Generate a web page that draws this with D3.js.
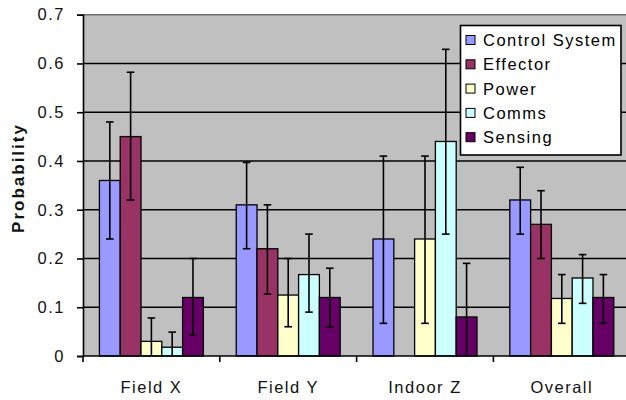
<!DOCTYPE html>
<html>
<head>
<meta charset="utf-8">
<script src="https://cdn.jsdelivr.net/npm/d3@7"></script>
<style>
  body { margin: 0; background: #fff; }
  svg { display: block; font-family: "Liberation Sans", Arial, sans-serif; }
</style>
</head>
<body>
<svg id="chart" width="626" height="400"></svg>
<script>
const categories = ['Field X', 'Field Y', 'Indoor Z', 'Overall'];
const seriesNames = ['Control System', 'Effector', 'Power', 'Comms', 'Sensing'];
const seriesColors = ['#9999ff', '#993366', '#ffffcc', '#ccffff', '#660066'];

// mean probability per series, one value per category (null = no bar)
const controlSystem = [0.36, 0.31, 0.24, 0.32];
const effector = [0.45, 0.22, null, 0.27];
const power = [0.03, 0.125, 0.24, 0.118];
const comms = [0.018, 0.167, 0.44, 0.16];
const sensing = [0.12, 0.12, 0.08, 0.12];

// error bar ends
const controlSystemLow = [0.24, 0.22, 0.067, 0.25];
const controlSystemHigh = [0.48, 0.397, 0.41, 0.387];
const effectorLow = [0.32, 0.127, null, 0.2];
const effectorHigh = [0.582, 0.31, null, 0.339];
const powerLow = [0, 0.06, 0.067, 0.067];
const powerHigh = [0.078, 0.2, 0.41, 0.167];
const commsLow = [0, 0.09, 0.25, 0.108];
const commsHigh = [0.049, 0.25, 0.629, 0.208];
const sensingLow = [0.043, 0.06, 0, 0.067];
const sensingHigh = [0.2, 0.18, 0.19, 0.167];

const yTicks = [0, 0.1, 0.2, 0.3, 0.4, 0.5, 0.6, 0.7];

const values = [controlSystem, effector, power, comms, sensing];
const lows = [controlSystemLow, effectorLow, powerLow, commsLow, sensingLow];
const highs = [controlSystemHigh, effectorHigh, powerHigh, commsHigh, sensingHigh];

const bars = [];
seriesNames.forEach((s, si) => {
    categories.forEach((c, ci) => {
        if (values[si][ci] == null) return;
        bars.push({ series: s, color: seriesColors[si], cat: c, v: values[si][ci], lo: lows[si][ci], hi: highs[si][ci] });
    });
});

const svg = d3.select('#chart');
const plotLeft = 83, plotRight = 630.2, plotTop = 14.7, plotBottom = 356;

const x0 = d3.scaleBand().domain(categories).range([plotLeft, plotRight]).padding(0);
const x1 = d3.scaleBand().domain(seriesNames).range([0, x0.bandwidth()]).paddingInner(0).paddingOuter(0.79);
const y = d3.scaleLinear().domain([0, 0.7]).range([plotBottom, plotTop]);

// plot area
svg.append('rect')
    .attr('x', plotLeft).attr('y', plotTop)
    .attr('width', 626 - plotLeft).attr('height', plotBottom - plotTop)
    .attr('fill', '#c0c0c0');

// gridlines
svg.append('g')
    .selectAll('line')
    .data(yTicks.filter(t => t > 0))
    .join('line')
    .attr('x1', plotLeft).attr('x2', 626)
    .attr('y1', d => y(d)).attr('y2', d => y(d))
    .attr('stroke', d => d === 0.7 ? '#707070' : '#000')
    .attr('stroke-width', 1.5);

// bars
svg.append('g')
    .selectAll('rect')
    .data(bars)
    .join('rect')
    .attr('x', d => x0(d.cat) + x1(d.series))
    .attr('y', d => y(d.v))
    .attr('width', x1.bandwidth())
    .attr('height', d => y(0) - y(d.v))
    .attr('fill', d => d.color)
    .attr('stroke', '#000')
    .attr('stroke-width', 1.3);

// error bars
const capHalf = 3.8;
const eb = svg.append('g').attr('stroke', '#000').attr('stroke-width', 1.6);
bars.forEach(d => {
    const cx = x0(d.cat) + x1(d.series) + x1.bandwidth() / 2;
    eb.append('line').attr('x1', cx).attr('x2', cx).attr('y1', y(d.lo)).attr('y2', y(d.hi));
    eb.append('line').attr('x1', cx - capHalf).attr('x2', cx + capHalf).attr('y1', y(d.hi)).attr('y2', y(d.hi));
    if (d.lo > 0) {
        eb.append('line').attr('x1', cx - capHalf).attr('x2', cx + capHalf).attr('y1', y(d.lo)).attr('y2', y(d.lo));
    }
});

// y axis
const yAxis = svg.append('g')
    .attr('transform', `translate(${plotLeft},0)`)
    .call(d3.axisLeft(y).tickValues(yTicks).tickSize(6).tickPadding(12).tickFormat(d => d === 0 ? '0' : d3.format('.1f')(d)));
yAxis.select('.domain').attr('stroke', '#000').attr('stroke-width', 1.6);
yAxis.selectAll('.tick line').attr('stroke', '#000').attr('stroke-width', 1.6);
yAxis.selectAll('text')
    .attr('font-size', 16.5).attr('letter-spacing', 1.5)
    .attr('fill', '#111')
    .attr('font-family', '"Liberation Sans", Arial, sans-serif');

// x axis
svg.append('line')
    .attr('x1', plotLeft).attr('x2', 626).attr('y1', plotBottom).attr('y2', plotBottom)
    .attr('stroke', '#000').attr('stroke-width', 1.6);
svg.append('g')
    .selectAll('line')
    .data(categories)
    .join('line')
    .attr('x1', d => x0(d)).attr('x2', d => x0(d))
    .attr('y1', plotBottom).attr('y2', plotBottom + 6)
    .attr('stroke', '#000').attr('stroke-width', 1.6);
svg.append('g')
    .selectAll('text')
    .data(categories)
    .join('text')
    .attr('x', d => x0(d) + x0.bandwidth() / 2)
    .attr('y', 393)
    .attr('text-anchor', 'middle')
    .attr('font-size', 16.5).attr('letter-spacing', 1.5)
    .attr('fill', '#111')
    .text(d => d);

// axis title
svg.append('text')
    .attr('transform', 'translate(24,178) rotate(-90)')
    .attr('text-anchor', 'middle')
    .attr('font-size', 17).attr('font-weight', 'bold').attr('letter-spacing', 2)
    .attr('fill', '#111')
    .text('Probability');

// legend
const legend = svg.append('g');
legend.append('rect')
    .attr('x', 460.5).attr('y', 25.5).attr('width', 160.5).attr('height', 129.5)
    .attr('fill', '#fff').attr('stroke', '#000').attr('stroke-width', 1.6);
const items = legend.selectAll('g.item')
    .data(seriesNames)
    .join('g')
    .attr('class', 'item')
    .attr('transform', (d, i) => `translate(466,${40 + i * 24.3})`);
items.append('rect')
    .attr('x', 0).attr('y', -4.5).attr('width', 9).attr('height', 9)
    .attr('fill', (d, i) => seriesColors[i])
    .attr('stroke', '#000').attr('stroke-width', 1);
items.append('text')
    .attr('x', 17).attr('y', 6)
    .attr('font-size', 16.5).attr('letter-spacing', 1.5)
    .attr('fill', '#000')
    .text(d => d);
</script>
</body>
</html>
